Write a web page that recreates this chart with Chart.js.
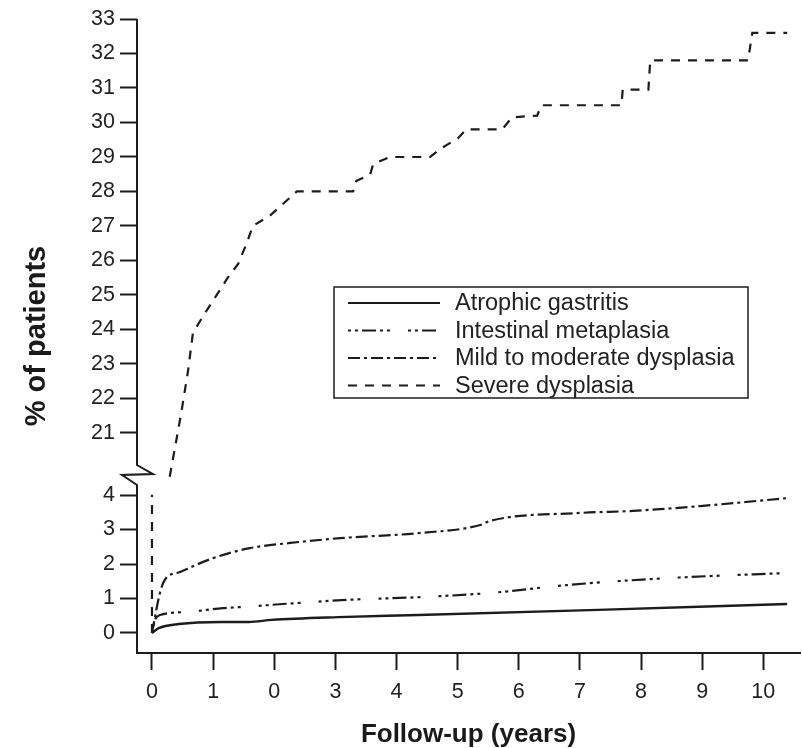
<!DOCTYPE html>
<html>
<head>
<meta charset="utf-8">
<script src="https://cdn.jsdelivr.net/npm/chart.js@4.4.1/dist/chart.umd.min.js"></script>
<style>
  html, body { margin:0; padding:0; background:#fff; }
  #wrap { width:802px; height:748px; }
</style>
</head>
<body>
<div id="wrap"><canvas id="riskChart"></canvas></div>
<script>
// axis ticks (the third x label really reads "0" in the source figure)
const xTicks = [0,1,2,3,4,5,6,7,8,9,10];
const xTickLabels = ['0','1','0','3','4','5','6','7','8','9','10'];
const yLowTicks = [0,1,2,3,4];
const yHighTicks = [21,22,23,24,25,26,27,28,29,30,31,32,33];

const seriesNames = ['Atrophic gastritis','Intestinal metaplasia','Mild to moderate dysplasia','Severe dysplasia'];

const atrophicYears = [0,0.11,0.44,1.14,1.58,1.96,3.05,4.36,7.3,10.39];
const atrophicPct   = [0,0.14,0.26,0.32,0.32,0.38,0.46,0.52,0.67,0.84];

const metaplasiaYears = [0,0.05,0.13,0.57,1.16,1.44,2.14,3.19,4.39,5.53,6.79,8.43,10.39];
const metaplasiaPct   = [0,0.38,0.52,0.61,0.72,0.75,0.84,0.96,1.04,1.16,1.39,1.59,1.74];

const mildYears = [0,0.13,0.21,0.46,1.0,1.6,2.26,3.08,4.39,5.37,5.53,7.0,7.87,8.97,10.39];
const mildPct   = [0,1.16,1.54,1.77,2.17,2.46,2.61,2.75,2.9,3.13,3.25,3.48,3.54,3.68,3.91];

const severeYears = [0,0,0.1,0.29,0.42,0.49,0.59,0.67,0.84,1.06,1.24,1.41,1.55,1.65,1.93,2.37,3.29,3.34,3.57,3.62,3.89,4.55,4.73,5.01,5.14,5.73,5.89,6.3,6.37,7.68,7.7,8.12,8.15,9.75,9.82,10.39];
const severePct   = [0,4.1,null,9,21,21.7,22.8,23.9,24.4,25.0,25.5,25.9,26.5,27.0,27.3,28.0,28.0,28.3,28.5,28.8,29.0,29.0,29.25,29.55,29.8,29.8,30.15,30.2,30.5,30.5,30.95,30.95,31.8,31.8,32.6,32.6];

// broken y axis: 4..21 squeezed into a small gap
const BREAK_LOW = 4, BREAK_HIGH = 21, GAP = 1.8;
function toAxis(v) {
  if (v == null) return null;
  if (v <= BREAK_LOW) return v;
  if (v >= BREAK_HIGH) return v - BREAK_HIGH + BREAK_LOW + GAP;
  return BREAK_LOW + (v - BREAK_LOW) / (BREAK_HIGH - BREAK_LOW) * GAP;
}
function fromAxis(t) {
  if (t <= BREAK_LOW) return t;
  if (t >= BREAK_LOW + GAP) return t - GAP - BREAK_LOW + BREAK_HIGH;
  return BREAK_LOW + (t - BREAK_LOW) / GAP * (BREAK_HIGH - BREAK_LOW);
}
function toPoints(xs, ys) {
  return xs.map((x, i) => ({x: x, y: toAxis(ys[i])}));
}

const ink = '#1c1c1c';
const dashes = [[], [3,4,3,4,14,4,3,4,3,18], [12,4,3,4], [9,8]];

const breakAxis = {
  id: 'breakAxis',
  afterDatasetsDraw(chart) {
    const ctx = chart.ctx, area = chart.chartArea, y = chart.scales.y;
    const x = area.left, p4 = y.getPixelForValue(BREAK_LOW);
    ctx.save();
    ctx.strokeStyle = ink;
    ctx.lineWidth = 2;
    ctx.lineJoin = 'miter';
    ctx.beginPath();
    ctx.moveTo(x, area.top);
    ctx.lineTo(x, p4 - 30);
    ctx.lineTo(x + 16, p4 - 21);
    ctx.lineTo(x - 15, p4 - 20);
    ctx.lineTo(x, p4 - 10);
    ctx.lineTo(x, area.bottom + 1);
    ctx.stroke();
    ctx.restore();
  }
};

const boxLegend = {
  id: 'boxLegend',
  afterDatasetsDraw(chart) {
    const ctx = chart.ctx;
    const bx = 334, by = 287, bw = 414, bh = 111;
    ctx.save();
    ctx.fillStyle = '#fff';
    ctx.fillRect(bx, by, bw, bh);
    ctx.strokeStyle = ink;
    ctx.lineWidth = 1.5;
    ctx.strokeRect(bx, by, bw, bh);
    chart.data.datasets.forEach((ds, i) => {
      const ry = by + 16 + i * 27.5;
      ctx.setLineDash(ds.borderDash || []);
      ctx.lineWidth = 2.2;
      ctx.beginPath();
      ctx.moveTo(348, ry);
      ctx.lineTo(440, ry);
      ctx.stroke();
      ctx.setLineDash([]);
      ctx.fillStyle = '#222';
      ctx.font = "23.5px 'Liberation Sans', Arial, sans-serif";
      ctx.textBaseline = 'middle';
      ctx.fillText(ds.label, 455, ry + 1);
    });
    ctx.restore();
  }
};

Chart.defaults.font.family = "'Liberation Sans', Arial, Helvetica, sans-serif";
Chart.defaults.color = '#222';

const ctx = document.getElementById('riskChart').getContext('2d');
new Chart(ctx, {
  type: 'line',
  data: {
    datasets: [
      {label: seriesNames[0], data: toPoints(atrophicYears, atrophicPct), cubicInterpolationMode: 'monotone'},
      {label: seriesNames[1], data: toPoints(metaplasiaYears, metaplasiaPct), cubicInterpolationMode: 'monotone'},
      {label: seriesNames[2], data: toPoints(mildYears, mildPct), cubicInterpolationMode: 'monotone'},
      {label: seriesNames[3], data: toPoints(severeYears, severePct), tension: 0}
    ].map((d, i) => Object.assign(d, {
      borderColor: ink, borderWidth: i === 0 ? 2.4 : 2.2, borderDash: dashes[i],
      pointRadius: 0, fill: false, spanGaps: false
    }))
  },
  options: {
    responsive: true,
    maintainAspectRatio: false,
    animation: false,
    layout: {padding: {top: 19, right: 2, left: 0, bottom: 0}},
    plugins: {legend: {display: false}, tooltip: {enabled: false}},
    scales: {
      x: {
        type: 'linear', min: -0.245, max: 10.6,
        afterBuildTicks: s => { s.ticks = xTicks.map(v => ({value: v})); },
        afterFit: s => { s.height = 95; },
        ticks: {callback: (v, i) => xTickLabels[i], font: {size: 21.5}, padding: 9, color: '#222', maxRotation: 0},
        grid: {drawOnChartArea: false, drawTicks: true, tickLength: 17, tickWidth: 2, tickColor: ink},
        border: {display: true, color: ink, width: 2},
        title: {display: true, text: 'Follow-up (years)', font: {size: 26, weight: 'bold'}, color: '#1a1a1a', padding: {top: 0, bottom: -2}}
      },
      y: {
        type: 'linear', min: -0.58, max: toAxis(33),
        afterBuildTicks: s => { s.ticks = yLowTicks.concat(yHighTicks).map(v => ({value: toAxis(v)})); },
        afterFit: s => { s.width = 137; },
        ticks: {callback: v => String(Math.round(fromAxis(v))), font: {size: 21.5}, padding: 5, color: '#222'},
        grid: {drawOnChartArea: false, drawTicks: true, tickLength: 17, tickWidth: 2, tickColor: ink},
        border: {display: false},
        title: {display: true, text: '% of patients', font: {size: 29, weight: 'bold'}, color: '#1a1a1a', padding: {top: 20, bottom: 0}}
      }
    }
  },
  plugins: [breakAxis, boxLegend]
});
</script>
</body>
</html>
